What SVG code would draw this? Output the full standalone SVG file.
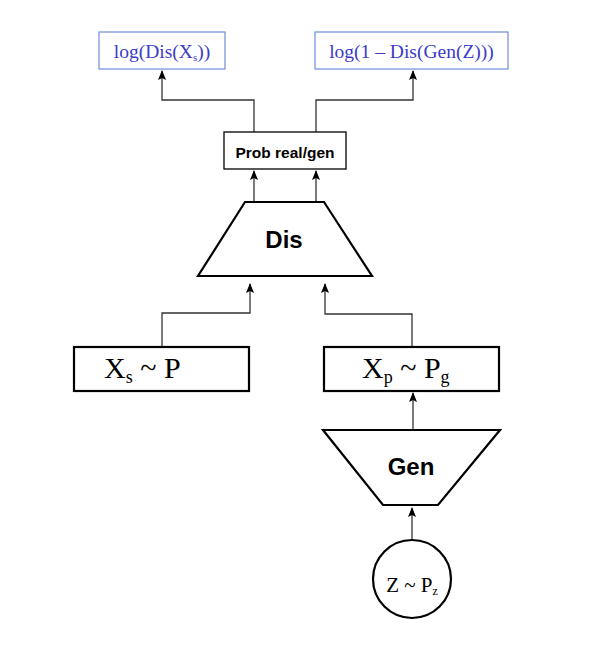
<svg xmlns="http://www.w3.org/2000/svg" width="599" height="648" viewBox="0 0 599 648">
<style>
.con{fill:none;stroke:#333;stroke-width:1.3}
.box{fill:#fff;stroke:#000;stroke-width:2.2}
.blue{fill:#fff;stroke:#7b96dc;stroke-width:1.3}
.bt{font-family:"Liberation Serif",serif;font-size:19.5px;fill:#3b3bc8}
.serif{font-family:"Liberation Serif",serif;fill:#000}
.sans{font-family:"Liberation Sans",Arial,sans-serif;font-weight:bold;fill:#000}
</style>
<defs>
<marker id="ah" markerWidth="8" markerHeight="10" refX="4" refY="1" orient="0" markerUnits="userSpaceOnUse">
<path d="M0,10 L4,0 L8,10 L4,8 Z" fill="#000"/>
</marker>
</defs>
<rect width="599" height="648" fill="#fff"/>
<g id="connectors">
<path class="con" d="M254,132 V100 H162 V71" marker-end="url(#ah)"/>
<path class="con" d="M316,132 V100 H413 V71" marker-end="url(#ah)"/>
<path class="con" d="M254,202 V171" marker-end="url(#ah)"/>
<path class="con" d="M316,202 V171" marker-end="url(#ah)"/>
<path class="con" d="M162,347 V313 H250 V284" marker-end="url(#ah)"/>
<path class="con" d="M412,347 V314 H325 V284" marker-end="url(#ah)"/>
<path class="con" d="M413,430 V393" marker-end="url(#ah)"/>
<path class="con" d="M412,541 V508" marker-end="url(#ah)"/>
</g>
<g id="logReal">
<rect class="blue" x="99" y="32" width="126" height="37"/>
<text class="bt" x="162" y="58" text-anchor="middle">log(Dis(X<tspan font-size="11" dy="3">s</tspan><tspan dy="-3">))</tspan></text>
</g>
<g id="logGen">
<rect class="blue" x="315" y="32" width="193" height="37"/>
<text class="bt" x="411.5" y="58" text-anchor="middle">log(1 – Dis(Gen(Z)))</text>
</g>
<g id="prob">
<rect x="224" y="132" width="122" height="37" fill="#fff" stroke="#000" stroke-width="1.3"/>
<text class="sans" x="285" y="158" font-size="15.5" text-anchor="middle">Prob real/gen</text>
</g>
<g id="dis">
<polygon class="box" points="245,202 324,202 372,276 198,276"/>
<text class="sans" x="284" y="248" font-size="24" text-anchor="middle">Dis</text>
</g>
<g id="xs">
<rect class="box" x="74" y="347" width="175" height="44"/>
<text class="serif" x="104" y="378" font-size="30">X<tspan font-size="18" dy="5">s</tspan><tspan dy="-5"> ~ P</tspan></text>
</g>
<g id="xp">
<rect class="box" x="324" y="347" width="175" height="44"/>
<text class="serif" x="362" y="378" font-size="30">X<tspan font-size="18" dy="5">p</tspan><tspan dy="-5"> ~ P</tspan><tspan font-size="18" dy="5">g</tspan></text>
</g>
<g id="gen">
<polygon class="box" points="323,430 500,430 438,505 383,505"/>
<text class="sans" x="411" y="475" font-size="24" text-anchor="middle">Gen</text>
</g>
<g id="z">
<circle class="box" cx="412" cy="579" r="39"/>
<text class="serif" x="412" y="592" font-size="21" text-anchor="middle">Z ~ P<tspan font-size="12" dy="3">z</tspan></text>
</g>
</svg>
